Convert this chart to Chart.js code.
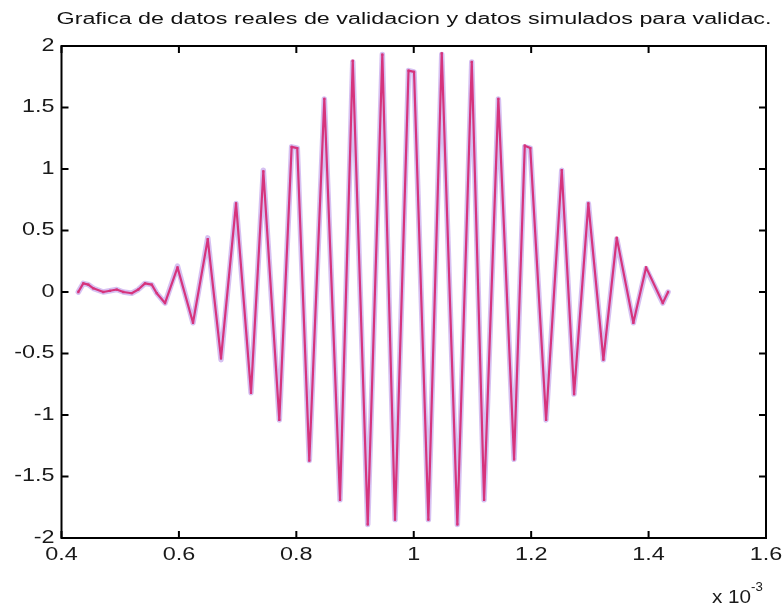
<!DOCTYPE html>
<html>
<head>
<meta charset="utf-8">
<script src="https://cdn.jsdelivr.net/npm/chart.js@4"></script>
<style>
  html, body { margin: 0; padding: 0; background: #fff; }
</style>
</head>
<body>
<canvas id="grafica" width="783" height="605"></canvas>
<script>
// tiempo en unidades de 1e-3 s
let tiempo = [0.4286, 0.4371, 0.4457, 0.4542, 0.4712, 0.4826, 0.4940, 0.5053, 0.5196, 0.5308,
  0.5422, 0.5537, 0.5622, 0.5763, 0.5976, 0.6240, 0.6491, 0.6717, 0.6973, 0.7228,
  0.7438, 0.7710, 0.7920, 0.8016, 0.8221, 0.8477, 0.8744, 0.8961, 0.9216, 0.9465,
  0.9681, 0.9911, 1.0005, 1.0249, 1.0477, 1.0743, 1.0988, 1.1198, 1.1441, 1.1709,
  1.1891, 1.1985, 1.2254, 1.2521, 1.2731, 1.2974, 1.3230, 1.3458, 1.3741, 1.3957,
  1.4242, 1.4332];

let datosReales = [0.00, 0.07, 0.06, 0.03, 0.00, 0.01, 0.02, 0.00, -0.01, 0.02,
  0.07, 0.06, -0.01, -0.09, 0.21, -0.25, 0.44, -0.55, 0.72, -0.82,
  0.99, -1.04, 1.18, 1.17, -1.37, 1.57, -1.69, 1.87, -1.89, 1.93,
  -1.85, 1.80, 1.79, -1.85, 1.93, -1.89, 1.87, -1.69, 1.57, -1.36,
  1.18, 1.17, -1.04, 0.99, -0.83, 0.72, -0.55, 0.43, -0.25, 0.19,
  -0.09, 0.00];

let datosSimulados = [0.00, 0.07, 0.06, 0.03, 0.00, 0.01, 0.02, 0.00, -0.01, 0.02,
  0.07, 0.06, -0.01, -0.09, 0.20, -0.25, 0.43, -0.54, 0.72, -0.82,
  0.98, -1.04, 1.18, 1.17, -1.37, 1.57, -1.69, 1.88, -1.89, 1.93,
  -1.85, 1.80, 1.79, -1.85, 1.94, -1.89, 1.87, -1.69, 1.57, -1.36,
  1.19, 1.17, -1.04, 0.99, -0.83, 0.72, -0.55, 0.44, -0.25, 0.20,
  -0.09, 0.00];

let ticksX = [0.4, 0.6, 0.8, 1, 1.2, 1.4, 1.6];
let ticksY = [-2, -1.5, -1, -0.5, 0, 0.5, 1, 1.5, 2];
let titulo = "Grafica de datos reales de validacion y datos simulados para validac.";

// texto estirado en horizontal, como sale en la figura exportada
function texto(ctx, s, x, y, align, sx) {
  ctx.save();
  ctx.translate(x, y);
  ctx.scale(sx, 1);
  ctx.textAlign = align;
  ctx.fillText(s, 0, 0);
  ctx.restore();
}

// marco, marcas hacia dentro, etiquetas y titulo
let ejes = {
  id: 'ejes',
  afterDraw(chart) {
    let ctx = chart.ctx;
    let a = chart.chartArea;
    let sx = chart.scales.x, sy = chart.scales.y;
    ctx.save();
    ctx.strokeStyle = '#000';
    ctx.lineWidth = 2;
    ctx.strokeRect(a.left, a.top, a.right - a.left, a.bottom - a.top);

    ctx.beginPath();
    ticksX.forEach(v => {
      let px = sx.getPixelForValue(v);
      ctx.moveTo(px, a.bottom); ctx.lineTo(px, a.bottom - 7);
      ctx.moveTo(px, a.top); ctx.lineTo(px, a.top + 7);
    });
    ticksY.forEach(v => {
      let py = sy.getPixelForValue(v);
      ctx.moveTo(a.left, py); ctx.lineTo(a.left + 7, py);
      ctx.moveTo(a.right, py); ctx.lineTo(a.right - 7, py);
    });
    ctx.stroke();

    ctx.fillStyle = '#1a1a1a';
    ctx.font = '18px "Liberation Sans", Arial, sans-serif';
    ctx.textBaseline = 'middle';
    ticksY.forEach(v => {
      texto(ctx, String(v), a.left - 7, sy.getPixelForValue(v), 'right', 1.3);
    });
    ctx.textBaseline = 'top';
    ticksX.forEach(v => {
      texto(ctx, String(v), sx.getPixelForValue(v), a.bottom + 8, 'center', 1.3);
    });

    // multiplicador del eje x
    ctx.textBaseline = 'alphabetic';
    texto(ctx, 'x 10', 712, 603, 'left', 1.15);
    ctx.font = '12px "Liberation Sans", Arial, sans-serif';
    texto(ctx, '-3', 751, 591, 'left', 1.1);

    // titulo
    ctx.font = '16px "Liberation Sans", Arial, sans-serif';
    ctx.fillStyle = '#111';
    let w = ctx.measureText(titulo).width;
    texto(ctx, titulo, 414, 24, 'center', 715 / w);
    ctx.restore();
  }
};

new Chart(document.getElementById('grafica'), {
  type: 'line',
  data: {
    datasets: [
      {
        label: 'datos reales',
        data: tiempo.map((t, i) => ({ x: t, y: datosReales[i] })),
        borderColor: 'rgba(165, 115, 225, 0.45)',
        borderWidth: 5.5,
        borderJoinStyle: 'round',
        borderCapStyle: 'round',
        pointRadius: 0,
        tension: 0
      },
      {
        label: 'datos simulados',
        data: tiempo.map((t, i) => ({ x: t, y: datosSimulados[i] })),
        borderColor: 'rgb(255, 0, 45)',
        backgroundColor: 'rgb(255, 0, 45)',
        borderWidth: 2.2,
        borderJoinStyle: 'round',
        pointStyle: 'rect',
        pointRadius: 1.6,
        pointBorderWidth: 0,
        tension: 0
      }
    ]
  },
  options: {
    responsive: false,
    animation: false,
    devicePixelRatio: 1,
    layout: { padding: { left: 61.5, right: 17, top: 46, bottom: 67 } },
    plugins: { legend: { display: false }, tooltip: { enabled: false }, title: { display: false } },
    scales: {
      x: { type: 'linear', min: 0.4, max: 1.6, display: false },
      y: { type: 'linear', min: -2, max: 2, display: false }
    }
  },
  plugins: [ejes]
});
</script>
</body>
</html>
